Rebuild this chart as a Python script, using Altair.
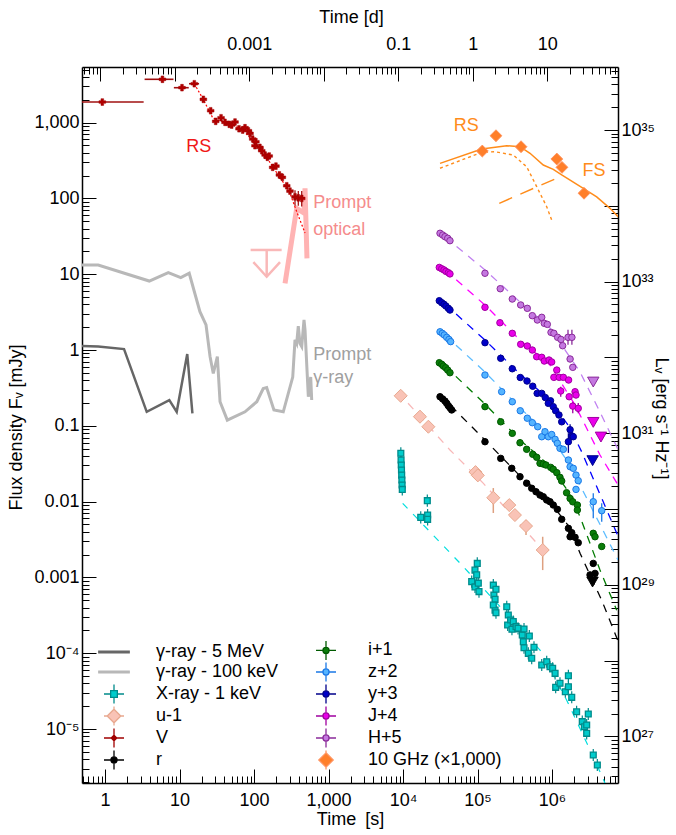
import math
import altair as alt
import pandas as pd

FONT = "Liberation Sans"
W, H = 536, 716
T_MIN, T_MAX = 0.491, 7.69e6
F_MIN, F_MAX = 1.94e-6, 5420.0
L_PER_MJY = 10 ** 32.098
DAY_S = 86400.0

# ---------------- data (time in s, flux density in mJy) ----------------
G5_T = [0.49, 0.81, 1.80, 3.63, 7.3, 9.17, 12.7, 14.9]
G5_F = [1.13, 1.11, 1.03, 0.153, 0.219, 0.153, 0.886, 0.146]

G100_T = [0.49, 0.81, 3.93, 7.07, 10.4, 13.5, 18.8, 22.7, 25.7, 28.4,
          32.2, 35.0, 43.8, 75.7, 109, 133, 148, 185, 247, 331,
          355, 374, 393, 414, 437, 469, 484, 536, 577, 595]
G100_F = [13.2, 13.2, 8.13, 10.5, 9.0, 10.3, 3.2, 2.14, 0.82, 0.49,
          0.82, 0.208, 0.119, 0.153, 0.208, 0.31, 0.32, 0.162, 0.153, 0.44,
          1.36, 1.22, 2.07, 1.22, 1.11, 2.49, 1.84, 0.242, 0.44, 0.219]

PO_T = [261, 374, 469, 484, 514]
PO_F = [7.6, 74, 64, 136, 16.2]
PO_LIM_T, PO_LIM_F, PO_LIM_TLO, PO_LIM_THI, PO_LIM_FLO = 148, 20.9, 90, 235, 9.27

V_T = [0.92, 5.9, 10.8, 15.8, 20.9, 26.2, 30.6, 36.1, 40.8, 46.6,
       50.2, 55.6, 62.9, 70.5, 75.7, 84, 88.4, 96, 103, 106,
       120, 127, 141, 151, 160, 178, 197, 219, 240, 275,
       304, 355, 393, 437]
V_F = [1870, 3730, 2890, 3260, 2030, 1435, 1040, 1160, 1010, 950,
       930, 1020, 830, 798, 857, 782, 722, 608, 496, 560,
       472, 426, 374, 349, 363, 257, 267, 204, 190, 147,
       125, 105, 102, 100]
V_HBAR_T = [0.92, 5.9, 10.8, 15.8]
V_HBAR_F = [1870, 3730, 2890, 3260]
V_HBAR_LO = [0.49, 3.4, 8.4, 13.4]
V_HBAR_HI = [3.3, 8.3, 13.3, 18.3]
V_VBAR_T = [355, 393, 437]
V_VBAR_LO = [80, 80, 78]
V_VBAR_HI = [128, 125, 125]
V_RS_T = [15.8, 21, 28, 35, 50, 70, 100, 150, 191, 250, 304, 374, 484]
V_RS_F = [3260, 2000, 1150, 1060, 950, 800, 560, 340, 237, 160, 117, 67, 35]

XR_T = [9350, 9420, 9480, 9540, 9600, 9660, 9720, 9780, 17300, 21200, 21400, 21400,
        83600, 92500, 92500, 97500, 99300, 102500, 104700,
        163000, 166000, 172000, 172000, 177000, 163000, 177000,
        247000, 254000, 259000, 279000, 290000, 302000, 329000, 350000,
        399000, 412000, 421000, 421000, 481000, 496000, 534000, 573000,
        728000, 849000, 940000, 1.02e6, 1.10e6, 1.12e6, 1.28e6, 1.51e6, 1.66e6, 1.66e6, 1.84e6,
        2.14e6, 2.55e6, 2.72e6, 2.92e6, 2.92e6, 3.07e6, 3.58e6, 4.06e6]
XR_F = [0.0434, 0.0354, 0.0304, 0.0261, 0.0224, 0.0193, 0.0166, 0.0145, 0.0062, 0.0103, 0.00666, 0.00584,
        8.8e-4, 1.25e-3, 7.5e-4, 1.08e-3, 1.53e-3, 8.4e-4, 6.5e-4,
        7.9e-4, 5.86e-4, 5.14e-4, 3.71e-4, 6.97e-4, 4.32e-4, 3.42e-4,
        4.10e-4, 2.36e-4, 3.19e-4, 2.74e-4, 2.07e-4, 2.61e-4, 2.24e-4, 2.13e-4,
        1.74e-4, 1.42e-4, 2.09e-4, 1.18e-4, 9.97e-5, 1.69e-4, 8.57e-5, 1.20e-4,
        6.98e-5, 7.73e-5, 6.64e-5, 6.32e-5, 5.43e-5, 3.55e-5, 4.01e-5, 3.10e-5, 5.05e-5, 3.61e-5, 2.62e-5,
        1.69e-5, 1.25e-5, 1.07e-5, 1.13e-5, 8.77e-6, 1.58e-5, 4.54e-6, 3.35e-6]
XR_ERR_DEX = 0.08
XR_MOD_T = [9900, 61400, 690000, 1.57e6, 3.58e6, 5.14e6]
XR_MOD_F = [0.0095, 0.00146, 1.10e-4, 2.42e-5, 4.31e-6, 1.94e-6]

U_T = [9310, 16900, 21900, 94000, 101000, 163000, 267000, 318000, 448000, 750000]
U_F = [0.249, 0.132, 0.0973, 0.0245, 0.0222, 0.01125, 0.00901, 0.00665, 0.00476, 0.0023]
U_BAR_T = [163000, 448000, 750000]
U_BAR_LO = [0.00708, 0.00362, 0.00125]
U_BAR_HI = [0.0151, 0.00572, 0.00344]
U_MOD_T = [8570, 42700, 120000, 690000, 805000]
U_MOD_F = [0.279, 0.048, 0.0174, 0.00254, 0.00198]

R_T = [31400, 34100, 36600, 38600, 40600, 42700, 45000,
       126000, 205000, 288000, 372000, 457000, 534000, 610000, 690000, 764000, 849000, 940000,
       1.04e6, 1.18e6, 1.35e6, 1.66e6, 1.84e6, 1.75e6, 2.04e6, 2.25e6,
       3.24e6, 3.58e6, 3.78e6]
R_F = [0.242, 0.226, 0.212, 0.198, 0.184, 0.173, 0.162,
       0.0617, 0.0372, 0.0275, 0.0213, 0.0175, 0.0150, 0.0135, 0.0122, 0.0116, 0.0105, 0.00997,
       0.00902, 0.00791, 0.00584, 0.00444, 0.00389, 0.00344, 0.00338, 0.00287,
       0.00108, 0.00153, 0.00113]
R_LIM_T, R_LIM_F = [3.5e6], [8.7e-4]
R_MOD_T = [31400, 79300, 126000, 372000, 940000, 1.75e6, 2.38e6, 4.65e6, 7.76e6]
R_MOD_F = [0.255, 0.1026, 0.065, 0.0218, 0.0099, 0.00449, 0.00208, 5.0e-4, 1.42e-4]

I_T = [30700, 33100, 34800, 37400, 39800, 42700,
       126000, 205000, 293000, 372000, 457000, 551000, 623000, 690000, 764000, 830000, 961000,
       1.04e6, 1.16e6, 1.28e6, 1.35e6, 1.57e6, 1.75e6, 1.90e6, 2.19e6, 2.19e6,
       3.58e6, 3.78e6, 4.65e6]
I_F = [0.680, 0.647, 0.615, 0.584, 0.544, 0.502,
       0.179, 0.113, 0.0796, 0.0598, 0.0490, 0.0421, 0.0384, 0.0320, 0.0313, 0.0304, 0.0283,
       0.0267, 0.0241, 0.0209, 0.0187, 0.0131, 0.0110, 0.00995, 0.00901, 0.00774,
       0.00382, 0.00344, 0.00256]
I_MOD_T = [36600, 126000, 372000, 940000, 1.75e6, 2.38e6, 4.41e6, 7.38e6]
I_MOD_F = [0.615, 0.194, 0.065, 0.0295, 0.0126, 0.0063, 0.00125, 3.7e-4]

Z_T = [31400, 33700, 35800, 38600, 41400, 43600,
       126000, 211000, 293000, 375000, 466000, 544000, 643000, 728000, 805000, 892000, 990000,
       1.10e6, 1.18e6, 1.28e6, 1.42e6, 1.66e6, 1.75e6, 1.93e6, 2.10e6, 2.25e6, 2.10e6,
       3.58e6, 4.65e6]
Z_F = [1.74, 1.66, 1.58, 1.47, 1.38, 1.29,
       0.468, 0.282, 0.208, 0.158, 0.126, 0.110, 0.0973, 0.0718, 0.0836, 0.0718, 0.0768,
       0.0664, 0.0588, 0.0505, 0.0490, 0.0354, 0.0289, 0.0275, 0.0224, 0.0189, 0.0145,
       0.00997, 0.00759]
Z_BAR_T = [3.58e6, 4.65e6]
Z_BAR_LO = [0.00602, 0.00543]
Z_BAR_HI = [0.0129, 0.0095]
Z_MOD_T = [36600, 126000, 372000, 940000, 1.75e6, 2.50e6, 7.69e6]
Z_MOD_F = [1.58, 0.513, 0.172, 0.0733, 0.0304, 0.0150, 0.0017]

Y_T = [30700, 33100, 35500, 37700, 40600, 42700,
       126000, 205000, 293000, 375000, 462000, 551000, 632000, 728000, 813000, 955000, 892000,
       1.04e6, 1.12e6, 1.24e6, 1.35e6, 1.75e6, 1.85e6, 1.66e6, 1.93e6]
Y_F = [4.47, 4.21, 4.01, 3.80, 3.55, 3.37,
       1.25, 0.778, 0.566, 0.434, 0.390, 0.333, 0.268, 0.268, 0.236, 0.214, 0.198,
       0.179, 0.158, 0.139, 0.113, 0.0889, 0.0733, 0.0617, 0.0718]
Y_LIM_T, Y_LIM_F = [3.51e6], [0.0347]
Y_BAR_T = [1.66e6, 1.75e6]
Y_BAR_LO = [0.044, 0.075]
Y_BAR_HI = [0.080, 0.105]
Y_MOD_T = [36600, 126000, 372000, 940000, 1.75e6, 2.50e6, 7.76e6]
Y_MOD_F = [4.04, 1.355, 0.482, 0.219, 0.0935, 0.0455, 0.00344]

J_T = [30700, 33100, 35500, 37700, 40600, 42700,
       126000, 200000, 293000, 380000, 466000, 544000, 623000, 728000, 788000, 912000, 990000,
       1.16e6, 1.06e6, 1.25e6, 1.42e6, 1.67e6, 1.31e6, 1.70e6, 2.04e6, 2.10e6, 1.90e6, 2.25e6]
J_F = [12.3, 11.8, 11.4, 10.9, 10.5, 10.1,
       3.66, 2.29, 1.66, 1.19, 1.13, 1.0, 0.816, 0.801, 0.716, 0.738, 0.695,
       0.544, 0.436, 0.436, 0.436, 0.402, 0.288, 0.242, 0.282, 0.255, 0.182, 0.170]
J_LIM_T, J_LIM_F = [3.58e6, 4.54e6], [0.111, 0.0711]
J_BAR_T = [1.31e6, 1.90e6, 2.25e6]
J_BAR_LO = [0.242, 0.146, 0.146]
J_BAR_HI = [0.328, 0.208, 0.200]
J_MOD_T = [36600, 126000, 372000, 940000, 2.04e6, 4.41e6, 7.69e6]
J_MOD_F = [11.4, 3.92, 1.355, 0.634, 0.188, 0.0412, 0.0166]

HB_T = [31400, 34100, 36600, 39800, 42700,
        126000, 202000, 293000, 380000, 466000, 544000, 636000, 728000, 788000, 865000, 970000,
        1.06e6, 1.19e6, 1.32e6, 1.39e6, 1.64e6, 1.85e6, 1.75e6, 1.90e6]
HB_F = [34.7, 32.9, 31.3, 29.8, 27.7,
        10.3, 6.44, 4.71, 3.93, 3.55, 2.84, 2.49, 2.70, 2.25, 2.18, 1.71,
        1.66, 1.47, 1.38, 1.14, 1.47, 1.47, 0.761, 0.591]
HB_LIM_T, HB_LIM_F = [3.58e6], [0.378]
HB_BAR_T = [1.64e6, 1.85e6]
HB_BAR_LO = [1.17, 1.17]
HB_BAR_HI = [1.85, 1.85]
HB_MOD_T = [36600, 126000, 372000, 940000, 2.38e6, 4.41e6, 7.76e6]
HB_MOD_F = [31.0, 11.4, 4.30, 1.95, 0.513, 0.152, 0.048]

RAD_T = [116000, 177000, 384000, 1.16e6, 1.36e6, 2.69e6]
RAD_F = [422, 672, 481, 331, 257, 117]
RAD_TOT_T = [31400, 114000, 247000, 372000, 507000, 764000, 1.04e6, 1.35e6, 2.63e6, 3.98e6, 6.01e6, 7.76e6]
RAD_TOT_F = [290, 448, 496, 481, 394, 276, 242, 204, 136, 105, 74, 57]
RAD_RS_T = [31400, 114000, 172000, 302000, 457000, 623000, 849000, 990000]
RAD_RS_F = [250, 406, 413, 374, 262, 143, 77.8, 51.9]
RAD_FS_T = [196000, 1.28e6]
RAD_FS_F = [86.2, 193]

ANN_C_TEXT = ["RS", "RS", "FS"]
ANN_C_T = [18.1, 70800, 3.66e6]
ANN_C_F = [477, 893, 228]
ANN_C_COL = ["#f01818", "#ff8c1a", "#ff8c1a"]
ANN_L_TEXT = ["Prompt", "optical", "Prompt", "γ-ray"]
ANN_L_T = [625, 625, 625, 625]
ANN_L_F = [86.2, 38.3, 0.859, 0.427]
ANN_L_COL = ["#f58c8c", "#f58c8c", "#a0a0a0", "#a0a0a0"]

X_LAB_V = [1, 10, 100, 1000, 1e4, 1e5, 1e6]
X_LAB = ["1", "10", "100", "1,000", "10⁴", "10⁵", "10⁶"]
Y_LAB_V = [1e-5, 1e-4, 1e-3, 0.01, 0.1, 1, 10, 100, 1000]
Y_LAB = ["10⁻⁵", "10⁻⁴", "0.001", "0.01", "0.1", "1", "10", "100", "1,000"]
D_LAB_V = [0.001, 0.1, 1, 10]
D_LAB = ["0.001", "0.1", "1", "10"]
L_LAB_V = [1e27, 1e29, 1e31, 1e33, 1e35]
L_LAB = ["10²⁷", "10²⁹", "10³¹", "10³³", "10³⁵"]

LEG_NAMES = ["γ-ray - 5 MeV", "γ-ray - 100 keV", "X-ray - 1 keV", "u-1", "V", "r",
             "i+1", "z+2", "y+3", "J+4", "H+5", "10 GHz (×1,000)"]

# colours (fill, edge)
C = {
    "g5": ("#666666", "#666666"), "g100": ("#b8b8b8", "#b8b8b8"),
    "x": ("#00cccc", "#008b8b"), "u": ("#f9c3b6", "#e8a88e"), "v": ("#b00000", "#a00000"),
    "r": ("#000000", "#000000"), "i": ("#0a7d0a", "#005a00"), "z": ("#55b4ff", "#1a78e6"),
    "y": ("#0000c8", "#00008b"), "j": ("#ea00ea", "#a000a0"), "h": ("#c478e0", "#8a2a9a"),
    "rad": ("#ff7f2a", "#ff9460"),
}
MOD_COL = {"x": "#00dede", "u": "#f8b8b8", "r": "#000000", "i": "#007a00", "z": "#5cbcff",
           "y": "#0000ff", "j": "#ff00ff", "h": "#c080f0"}


# legend symbol paths (unit = 8 px for symbolSize 256)
def bars(r):
    return f"M-1.25,0L{-r},0M{r},0L1.25,0M0,-1.19L0,{-r}M0,{r}L0,1.19"


P_LINE = "M-1.9,-0.12L1.9,-0.12L1.9,0.12L-1.9,0.12Z"
P_CIRC = bars(0.38) + "M0.38,0A0.38,0.38,0,1,1,-0.38,0A0.38,0.38,0,1,1,0.38,0Z"
P_SQ = bars(0.42) + "M-0.42,-0.42L0.42,-0.42L0.42,0.42L-0.42,0.42Z"
P_DIA = bars(0.85) + "M0,-0.85L0.85,0L0,0.85L-0.85,0Z"
P_V = "M-1.25,0L1.25,0M0,-1.19L0,1.19M0,-0.35L0.35,0L0,0.35L-0.35,0Z"
P_RAD = "M0,-1.19L0,-0.9M0,0.9L0,1.19M0,-0.9L0.9,0L0,0.9L-0.9,0Z"

LEG_KEYS = ["g5", "g100", "x", "u", "v", "r", "i", "z", "y", "j", "h", "rad"]
LEG_FILL = [C[k][0] for k in LEG_KEYS]
LEG_STROKE = [C[k][1] for k in LEG_KEYS]
LEG_SHAPE = [P_LINE, P_LINE, P_SQ, P_DIA, P_V, P_CIRC, P_CIRC, P_CIRC, P_CIRC, P_CIRC, P_CIRC, P_RAD]

# ---------------- scales & helpers ----------------
xs = alt.Scale(type="log", domain=[T_MIN, T_MAX], nice=False)
ys = alt.Scale(type="log", domain=[F_MIN, F_MAX], nice=False)


def exy(xf="t", yf="F"):
    return dict(x=alt.X(f"{xf}:Q", scale=xs, axis=None), y=alt.Y(f"{yf}:Q", scale=ys, axis=None))


def line(T, F, color, width=1.3, dash=None):
    df = pd.DataFrame({"t": T, "F": F})
    kw = dict(color=color, strokeWidth=width, clip=True)
    if dash:
        kw["strokeDash"] = dash
    return alt.Chart(df).mark_line(**kw).encode(**exy())


def pts(T, F, shape, key, size, sw=1.0):
    df = pd.DataFrame({"t": T, "F": F})
    return alt.Chart(df).mark_point(shape=shape, filled=True, fill=C[key][0], stroke=C[key][1],
                                    strokeWidth=sw, size=size, opacity=1, clip=True).encode(**exy())


def vbars(T, lo, hi, color, width=1.0):
    df = pd.DataFrame({"t": T, "lo": lo, "hi": hi})
    return alt.Chart(df).mark_rule(color=color, strokeWidth=width, clip=True).encode(
        x=alt.X("t:Q", scale=xs, axis=None), y=alt.Y("lo:Q", scale=ys, axis=None), y2="hi:Q")


def hbars(T_lo, T_hi, F, color, width=1.0):
    df = pd.DataFrame({"lo": T_lo, "hi": T_hi, "F": F})
    return alt.Chart(df).mark_rule(color=color, strokeWidth=width, clip=True).encode(
        x=alt.X("lo:Q", scale=xs, axis=None), x2="hi:Q", y=alt.Y("F:Q", scale=ys, axis=None))


def lab_expr(vals, labs):
    expr = "''"
    for v, lab in zip(reversed(vals), reversed(labs)):
        expr = f"abs(log(datum.value)/LN10 - ({math.log10(v):.4f})) < 0.01 ? '{lab}' : {expr}"
    return expr


def log_ticks(lo, hi):
    out = []
    for k in range(math.floor(math.log10(lo)), math.ceil(math.log10(hi)) + 1):
        for m in range(1, 10):
            v = float(f"{m}e{k}")
            if lo <= v <= hi:
                out.append(v)
    return out


TICK = {"condition": {"test": "abs(log(datum.value)/LN10 - round(log(datum.value)/LN10)) < 0.001",
                      "value": 14}, "value": 7}
LAB = dict(labelFont=FONT, labelFontSize=18, labelColor="black", grid=False, labelOverlap=False,
           labelFlush=False, domainColor="black", domainWidth=1.5, titleFont=FONT, titleFontSize=18,
           titleFontWeight="normal", titleColor="black", titleAlign="center", titleBaseline="middle")
TCK = dict(labels=False, domain=False, ticks=True, tickSize=TICK, tickColor="black", tickWidth=1,
           grid=False, title=None)

corner = pd.DataFrame({"t": [T_MIN], "F": [F_MIN]})
axA = alt.Chart(corner).mark_point(opacity=0).encode(
    x=alt.X("t:Q", scale=xs, axis=alt.Axis(orient="bottom", values=X_LAB_V, labelExpr=lab_expr(X_LAB_V, X_LAB),
                                           ticks=False, labelPadding=8, title="Time\u2002[s]",
                                           titleX=268, titleY=36, titleAngle=0, **LAB)),
    y=alt.Y("F:Q", scale=ys, axis=alt.Axis(orient="left", values=Y_LAB_V, labelExpr=lab_expr(Y_LAB_V, Y_LAB),
                                           ticks=False, labelPadding=3, title="Flux density Fᵥ [mJy]",
                                           titleX=-66, titleY=360, titleAngle=270, **LAB)))
axB = alt.Chart(corner).mark_point(opacity=0).encode(
    x=alt.X("t:Q", scale=xs, axis=alt.Axis(orient="top", offset=-H, values=log_ticks(T_MIN, T_MAX), **TCK)),
    y=alt.Y("F:Q", scale=ys, axis=alt.Axis(orient="right", offset=-W, values=log_ticks(F_MIN, F_MAX), **TCK)))

# ---------------- data layers ----------------
layers = [axA, axB]
layers += [line(G100_T, G100_F, C["g100"][0], 3), line(G5_T, G5_F, C["g5"][0], 2.5)]
layers += [line(PO_T, PO_F, "#ffb3b3", 5)]
layers += [hbars([PO_LIM_TLO], [PO_LIM_THI], [PO_LIM_F], "#f9b8b8", 2.5),
           vbars([PO_LIM_T], [PO_LIM_FLO], [PO_LIM_F], "#f9b8b8", 2.5)]
lim_df = pd.DataFrame({"t": [PO_LIM_T], "F": [PO_LIM_FLO]})
layers += [alt.Chart(lim_df).mark_point(shape="M-1,-1.1L0,0L1,-1.1", filled=False, stroke="#f9b8b8",
                                        strokeWidth=2.5, size=711, opacity=1, clip=True).encode(**exy())]
# V band
layers += [line(V_RS_T, V_RS_F, "#ff0000", 1.2, [2, 2])]
layers += [hbars(V_HBAR_LO, V_HBAR_HI, V_HBAR_F, "#a01010", 1.6), vbars(V_VBAR_T, V_VBAR_LO, V_VBAR_HI, "#a00000", 1.2)]
layers += [pts(V_T, V_F, "cross", "v", 45, 0.5)]
# X-ray
layers += [line(XR_MOD_T, XR_MOD_F, MOD_COL["x"], 1.2, [7, 8])]
layers += [vbars(XR_T, [f / 10 ** XR_ERR_DEX for f in XR_F], [f * 10 ** XR_ERR_DEX for f in XR_F], C["x"][1], 1.2)]
layers += [pts(XR_T, XR_F, "square", "x", 34, 1.3)]
# u
layers += [line(U_MOD_T, U_MOD_F, MOD_COL["u"], 1.3, [8, 7])]
layers += [vbars(U_BAR_T, U_BAR_LO, U_BAR_HI, "#dea080", 1.5)]
layers += [pts(U_T, U_F, "diamond", "u", 170, 1)]
# optical/NIR bands
for key, MT, MF in [("r", R_MOD_T, R_MOD_F), ("i", I_MOD_T, I_MOD_F), ("z", Z_MOD_T, Z_MOD_F),
                    ("y", Y_MOD_T, Y_MOD_F), ("j", J_MOD_T, J_MOD_F), ("h", HB_MOD_T, HB_MOD_F)]:
    layers.append(line(MT, MF, MOD_COL[key], 1.3, [8, 7]))
for key, BT, BL, BH in [("z", Z_BAR_T, Z_BAR_LO, Z_BAR_HI), ("y", Y_BAR_T, Y_BAR_LO, Y_BAR_HI),
                        ("j", J_BAR_T, J_BAR_LO, J_BAR_HI), ("h", HB_BAR_T, HB_BAR_LO, HB_BAR_HI)]:
    layers.append(vbars(BT, BL, BH, C[key][1], 1.3))
for key, T, F in [("r", R_T, R_F), ("i", I_T, I_F), ("z", Z_T, Z_F), ("y", Y_T, Y_F),
                  ("j", J_T, J_F), ("h", HB_T, HB_F)]:
    layers.append(pts(T, F, "circle", key, 42, 1))
for key, T, F in [("r", R_LIM_T, R_LIM_F), ("y", Y_LIM_T, Y_LIM_F), ("j", J_LIM_T, J_LIM_F),
                  ("h", HB_LIM_T, HB_LIM_F)]:
    layers.append(pts(T, F, "triangle-down", key, 130, 1))
# radio
layers += [line(RAD_RS_T, RAD_RS_F, "#ff8c1a", 1.4, [3, 3]), line(RAD_FS_T, RAD_FS_F, "#ff8c1a", 1.4, [14, 9]),
           line(RAD_TOT_T, RAD_TOT_F, "#ff8c1a", 1.5)]
layers += [pts(RAD_T, RAD_F, "diamond", "rad", 140, 1)]

# annotations
ann_c = pd.DataFrame({"t": ANN_C_T, "F": ANN_C_F, "s": ANN_C_TEXT, "c": ANN_C_COL})
ann_l = pd.DataFrame({"t": ANN_L_T, "F": ANN_L_F, "s": ANN_L_TEXT, "c": ANN_L_COL})
layers += [alt.Chart(ann_c).mark_text(font=FONT, fontSize=18, align="center", baseline="middle").encode(
    **exy(), text="s:N", color=alt.Color("c:N", scale=None)),
    alt.Chart(ann_l).mark_text(font=FONT, fontSize=18, align="left", baseline="middle").encode(
    **exy(), text="s:N", color=alt.Color("c:N", scale=None))]

# legend layer (invisible marks, legend only)
leg = alt.Legend(title=None, orient="none", legendX=23, legendY=574, columns=2, symbolSize=256,
                 symbolStrokeWidth=1.3, symbolOpacity=1, labelFont=FONT, labelFontSize=18, labelColor="black",
                 labelOffset=33, rowPadding=-6.1, columnPadding=34, labelLimit=400, padding=0)
leg_df = pd.DataFrame({"series": LEG_NAMES, "t": [T_MIN] * len(LEG_NAMES), "F": [F_MIN] * len(LEG_NAMES)})
layers += [alt.Chart(leg_df).mark_point(filled=True, opacity=0).encode(
    **exy(),
    fill=alt.Fill("series:N", scale=alt.Scale(domain=LEG_NAMES, range=LEG_FILL), legend=leg),
    stroke=alt.Stroke("series:N", scale=alt.Scale(domain=LEG_NAMES, range=LEG_STROKE), legend=leg),
    shape=alt.Shape("series:N", scale=alt.Scale(domain=LEG_NAMES, range=LEG_SHAPE), legend=leg))]

main = alt.layer(*layers)

# secondary axes: time in days (top) and luminosity density (right)
D_MIN, D_MAX = T_MIN / DAY_S, T_MAX / DAY_S
L_MIN, L_MAX = F_MIN * L_PER_MJY, F_MAX * L_PER_MJY
ds = alt.Scale(type="log", domain=[D_MIN, D_MAX], nice=False)
ls = alt.Scale(type="log", domain=[L_MIN, L_MAX], nice=False)
aux_df = pd.DataFrame({"d": [D_MIN], "L": [L_MIN]})
auxA = alt.Chart(aux_df).mark_point(opacity=0).encode(
    x=alt.X("d:Q", scale=ds, axis=alt.Axis(orient="top", values=D_LAB_V, labelExpr=lab_expr(D_LAB_V, D_LAB),
                                           ticks=False, labelPadding=14, title="Time [d]",
                                           titleX=269, titleY=-50, titleAngle=0, **LAB)),
    y=alt.Y("L:Q", scale=ls, axis=alt.Axis(orient="right", values=L_LAB_V, labelExpr=lab_expr(L_LAB_V, L_LAB),
                                           ticks=False, labelPadding=3, title="Lᵥ [erg s⁻¹ Hz⁻¹]",
                                           titleX=42, titleY=351, titleAngle=90, **LAB)))
auxB = alt.Chart(aux_df).mark_point(opacity=0).encode(
    x=alt.X("d:Q", scale=ds, axis=alt.Axis(orient="bottom", offset=-H, values=log_ticks(D_MIN, D_MAX), **TCK)),
    y=alt.Y("L:Q", scale=ls, axis=alt.Axis(orient="left", offset=-W, values=log_ticks(L_MIN, L_MAX), **TCK)))
aux = alt.layer(auxA, auxB)

chart = alt.layer(main, aux).resolve_scale(x="independent", y="independent").properties(
    width=W, height=H, padding={"left": 82, "top": 67, "right": 58, "bottom": 52},
    autosize=alt.AutoSizeParams(type="none"), background="white"
).configure_view(stroke=None).configure(font=FONT)

chart.save("out.html", embed_options={"renderer": "svg", "actions": False})
